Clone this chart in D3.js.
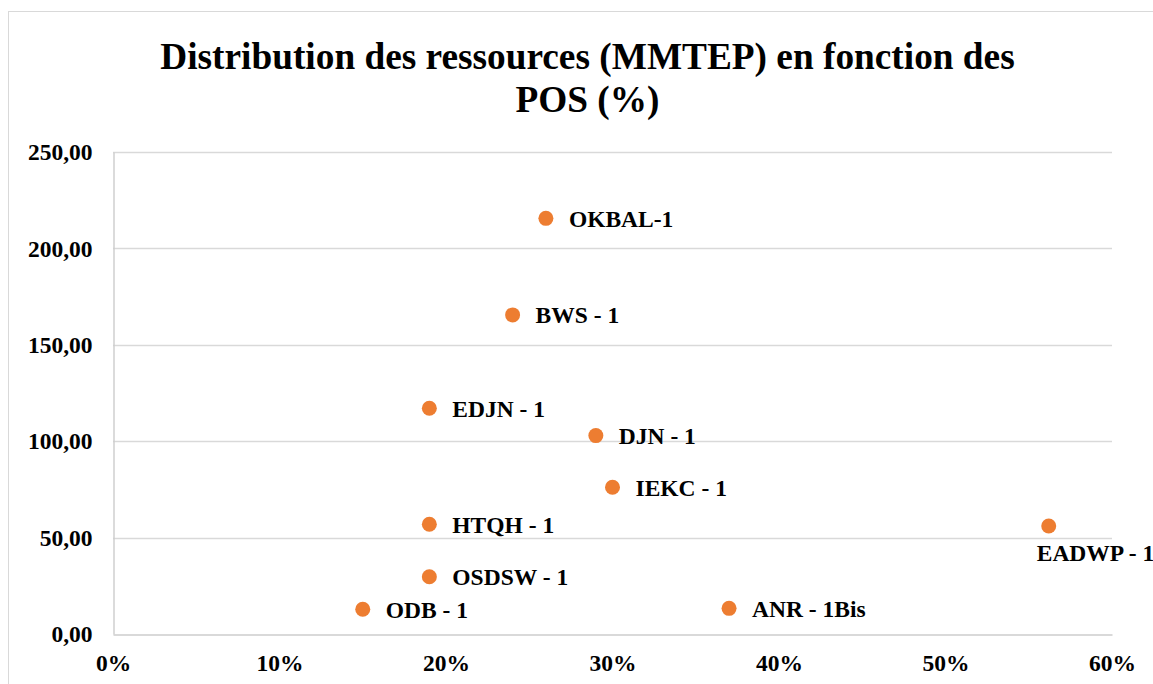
<!DOCTYPE html>
<html>
<head>
<meta charset="utf-8">
<script src="https://cdn.jsdelivr.net/npm/d3@7"></script>
<style>
  html, body { margin: 0; padding: 0; background: #fff; overflow: hidden; }
  svg { display: block; font-family: "Liberation Serif", "Times New Roman", serif; }
</style>
</head>
<body>
<svg id="chart" width="1153" height="684"></svg>
<script>
// Prospects: name, probability of success (POS) and resources (MMTEP)
const prospects = ["OKBAL-1", "BWS - 1", "EDJN - 1", "DJN - 1", "IEKC - 1",
                   "HTQH - 1", "OSDSW - 1", "ODB - 1", "ANR - 1Bis", "EADWP - 1"];
const posValues = [0.26, 0.24, 0.19, 0.29, 0.30, 0.19, 0.19, 0.15, 0.37, 0.562];
const resourceValues = [215.6, 165.5, 117.1, 102.9, 76.1, 56.9, 29.7, 12.8, 13.3, 56.0];

const xTicks = [0, 0.1, 0.2, 0.3, 0.4, 0.5, 0.6];
const yTicks = [0, 50, 100, 150, 200, 250];

const titleLines = ["Distribution des ressources (MMTEP) en fonction des", "POS (%)"];

const svg = d3.select("#chart");

// chart frame
svg.append("rect")
  .attr("x", 8.5).attr("y", 11.5)
  .attr("width", 1158).attr("height", 700)
  .attr("fill", "#fff").attr("stroke", "#d9d9d9").attr("stroke-width", 1);

const plot = { left: 113, right: 1112, top: 152, bottom: 634 };

const x = d3.scaleLinear().domain([0, 0.6]).range([plot.left, plot.right]);
const y = d3.scaleLinear().domain([0, 250]).range([plot.bottom, plot.top]);

// title
const title = svg.append("text")
  .attr("text-anchor", "middle")
  .attr("font-weight", "bold")
  .attr("font-size", 37.3)
  .attr("fill", "#000");
titleLines.forEach((line, i) => {
  title.append("tspan").attr("x", 587.5).attr("y", 68.5 + i * 43.4).text(line);
});

// horizontal gridlines
svg.append("g")
  .selectAll("line")
  .data(yTicks.filter(d => d > 0))
  .join("line")
  .attr("x1", plot.left).attr("x2", plot.right)
  .attr("y1", d => Math.round(y(d)) + 0.5).attr("y2", d => Math.round(y(d)) + 0.5)
  .attr("stroke", "#d9d9d9").attr("stroke-width", 1.4);

// axes
const fmtY = d => d3.format(".2f")(d).replace(".", ",");
const yAxis = d3.axisLeft(y).tickValues(yTicks).tickFormat(fmtY).tickSize(0).tickPadding(21);
const xAxis = d3.axisBottom(x).tickValues(xTicks).tickFormat(d3.format(".0%")).tickSize(0).tickPadding(20);

const gy = svg.append("g").attr("transform", `translate(${plot.left + 0.5},0)`).call(yAxis);
const gx = svg.append("g").attr("transform", `translate(0,${plot.bottom + 0.5})`).call(xAxis);

[gx, gy].forEach(g => {
  g.select(".domain").attr("stroke", "#cccccc").attr("stroke-width", 1.4);
  g.selectAll("text")
    .attr("font-family", "Liberation Serif, Times New Roman, serif")
    .attr("font-weight", "bold")
    .attr("font-size", 23.5)
    .attr("fill", "#000");
});
gy.selectAll("text").attr("dy", "0.33em");
gx.selectAll("text").attr("dy", "0.72em");

// points
const data = prospects.map((name, i) => ({ name, pos: posValues[i], res: resourceValues[i] }));

svg.append("g")
  .selectAll("circle")
  .data(data)
  .join("circle")
  .attr("cx", d => x(d.pos))
  .attr("cy", d => y(d.res))
  .attr("r", 7.5)
  .attr("fill", "#ED7D31");

// data labels: to the right of the point, or below when there is no room on the right
const labelG = svg.append("g")
  .attr("font-weight", "bold")
  .attr("font-size", 23.5)
  .attr("fill", "#000");

labelG.selectAll("text")
  .data(data)
  .join("text")
  .each(function (d) {
    const t = d3.select(this).text(d.name);
    const w = this.getComputedTextLength();
    const px = x(d.pos), py = y(d.res);
    if (px + 23 + w > plot.right) {
      t.attr("x", px - 12).attr("y", py + 35);
    } else {
      t.attr("x", px + 23).attr("y", py + 8.3);
    }
  });
</script>
</body>
</html>
